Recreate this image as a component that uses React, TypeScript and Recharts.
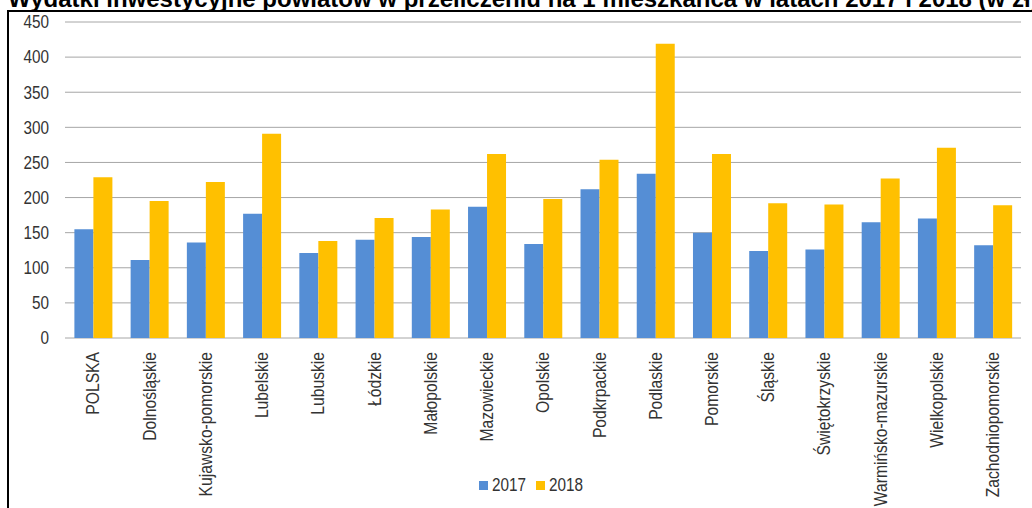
import { BarChart, Bar, XAxis, YAxis, CartesianGrid, Legend } from "recharts";

const regions = [
  "POLSKA",
  "Dolnośląskie",
  "Kujawsko-pomorskie",
  "Lubelskie",
  "Lubuskie",
  "Łódzkie",
  "Małopolskie",
  "Mazowieckie",
  "Opolskie",
  "Podkrpackie",
  "Podlaskie",
  "Pomorskie",
  "Śląskie",
  "Świętokrzyskie",
  "Warmińsko-mazurskie",
  "Wielkopolskie",
  "Zachodniopomorskie",
];

const values2017 = [155, 111, 136, 177, 121, 140, 144, 187, 134, 212, 234, 150, 124, 126, 165, 170, 132];
const values2018 = [229, 195, 222, 291, 138, 171, 183, 262, 198, 254, 419, 262, 192, 190, 227, 271, 189];

const yTicks = [0, 50, 100, 150, 200, 250, 300, 350, 400, 450];
// category boundaries, where the tick marks of the x axis sit
const edgeTicks = [...regions.map((_, i) => i), regions.length];

const data = regions.map((name, i) => ({
  name,
  y2017: values2017[i],
  y2018: values2018[i],
}));

// no narrow font installed, so squeeze Liberation Sans a bit
const FONT = '"Liberation Sans", Arial, sans-serif';
const TEXT = "#333333";
const GRID = "#a6a6a6";

function RegionTick({ x, y, payload }: any) {
  return (
    <g transform={`translate(${x},${y}) rotate(-90) scale(0.87,1)`}>
      <text textAnchor="end" dy="0.35em" fill={TEXT} fontSize={18} fontFamily={FONT}>
        {payload.value}
      </text>
    </g>
  );
}

function ValueTick({ x, y, payload }: any) {
  return (
    <g transform={`translate(${x},${y}) scale(0.85,1)`}>
      <text textAnchor="end" dy="0.35em" fill={TEXT} fontSize={18} fontFamily={FONT}>
        {payload.value}
      </text>
    </g>
  );
}

const legendLabel = (value: string) => (
  <span style={{ display: "inline-block", width: 34, whiteSpace: "nowrap", verticalAlign: "middle" }}>
    <span
      style={{
        display: "inline-block",
        color: TEXT,
        transform: "scaleX(0.85)",
        transformOrigin: "left center",
      }}
    >
      {value}
    </span>
  </span>
);

export default function App() {
  return (
    <div
      style={{
        position: "fixed",
        left: 0,
        top: 0,
        width: 1032,
        height: 508,
        overflow: "hidden",
        background: "#fff",
      }}
    >
      <div
        style={{
          position: "absolute",
          left: 8,
          top: -13,
          whiteSpace: "nowrap",
          fontFamily: FONT,
          fontWeight: "bold",
          fontSize: 24,
          lineHeight: "24px",
          color: "#000",
        }}
      >
        Wydatki inwestycyjne powiatów w przeliczeniu na 1 mieszkańca w latach 2017 i 2018 (w zł)
      </div>
      <div
        style={{
          position: "absolute",
          left: 7,
          top: 10,
          width: 1100,
          height: 600,
          border: "2px solid #000",
          boxSizing: "border-box",
        }}
      />
      <div style={{ position: "absolute", left: 0, top: 0 }}>
        <BarChart
          width={1032}
          height={508}
          data={data}
          margin={{ top: 22, right: 11, left: 8, bottom: 0 }}
          barCategoryGap="16.7%"
          barGap={0}
        >
          <CartesianGrid xAxisId="cat" vertical={false} stroke={GRID} strokeWidth={1} />
          <XAxis
            xAxisId="edges"
            type="number"
            domain={[0, regions.length]}
            ticks={edgeTicks}
            allowDataOverflow
            tick={false}
            tickSize={7}
            tickLine={{ stroke: GRID }}
            axisLine={{ stroke: GRID }}
            height={0}
          />
          <XAxis
            xAxisId="cat"
            dataKey="name"
            interval={0}
            tickLine={false}
            axisLine={false}
            tickSize={6}
            tickMargin={8}
            height={136}
            tick={<RegionTick />}
          />
          <YAxis
            domain={[0, 450]}
            ticks={yTicks}
            axisLine={false}
            tickLine={false}
            width={57}
            tickSize={6}
            tickMargin={10}
            tick={<ValueTick />}
          />
          <Legend
            verticalAlign="bottom"
            height={34}
            iconType="square"
            iconSize={9}
            wrapperStyle={{ left: 29, fontFamily: FONT, fontSize: 18 }}
            formatter={legendLabel}
          />
          <Bar xAxisId="cat" dataKey="y2017" name="2017" fill="#558ed5" isAnimationActive={false} />
          <Bar xAxisId="cat" dataKey="y2018" name="2018" fill="#ffc000" isAnimationActive={false} />
        </BarChart>
      </div>
    </div>
  );
}
